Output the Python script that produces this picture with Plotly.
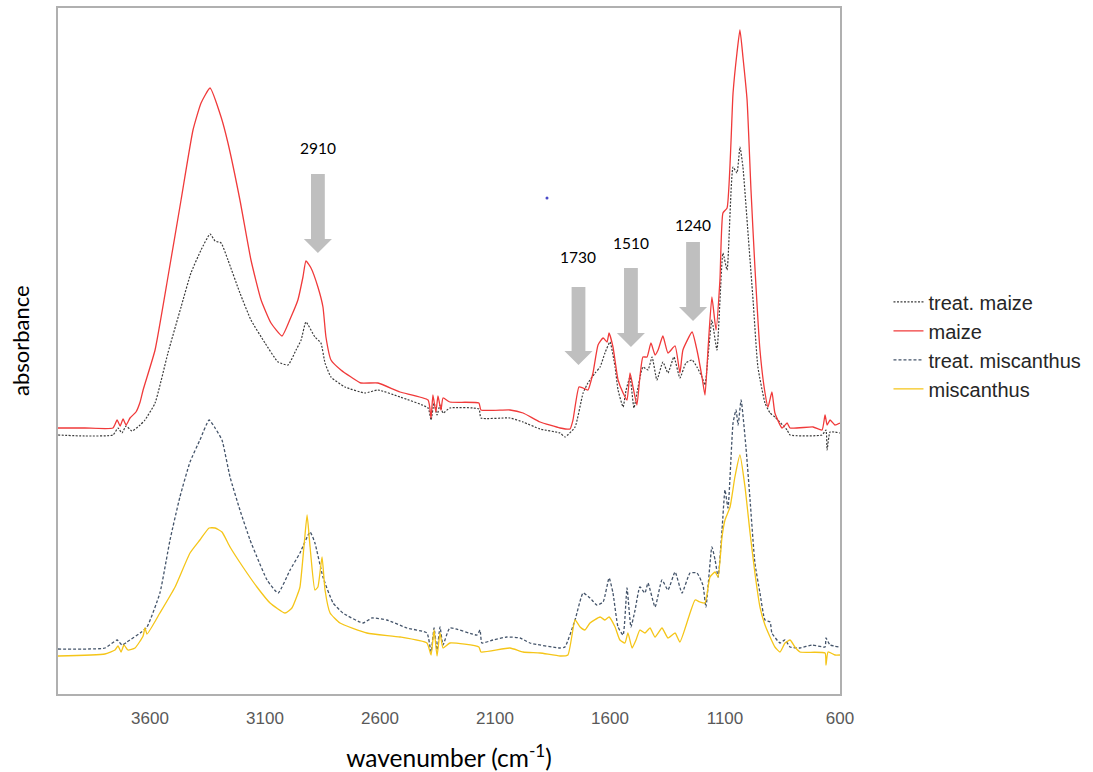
import plotly.graph_objects as go

# ---- spectra (wavenumber in cm-1, absorbance in arbitrary units) ----
treat_maize_wn = [4000, 3883, 3761, 3739, 3722, 3704, 3678, 3643, 3622, 3578, 3522, 3465, 3422, 3378, 3339, 3317,
                  3291, 3261, 3209, 3161, 3100, 3043, 3000, 2965, 2943, 2922, 2883, 2857, 2839, 2813, 2752, 2665,
                  2609, 2513, 2391, 2378, 2365, 2352, 2339, 2326, 2296, 2170, 2161, 2035, 1978, 1904, 1817, 1796,
                  1752, 1717, 1696, 1665, 1643, 1622, 1600, 1578, 1565, 1543, 1530, 1513, 1496, 1478, 1457, 1435,
                  1417, 1396, 1370, 1348, 1322, 1296, 1270, 1243, 1222, 1200, 1187, 1174, 1157, 1135, 1109, 1091,
                  1065, 1048, 1035, 1022, 1000, 978, 957, 926, 904, 883, 830, 817, 678, 661, 656, 643, 600]
treat_maize_abs = [0.259, 0.258, 0.259, 0.266, 0.261, 0.268, 0.263, 0.269, 0.274, 0.291, 0.341, 0.387, 0.421, 0.444,
                   0.460, 0.453, 0.451, 0.434, 0.401, 0.374, 0.351, 0.332, 0.329, 0.344, 0.354, 0.372, 0.357, 0.351,
                   0.331, 0.317, 0.307, 0.301, 0.304, 0.297, 0.286, 0.274, 0.291, 0.279, 0.289, 0.281, 0.286, 0.285,
                   0.276, 0.276, 0.272, 0.265, 0.261, 0.257, 0.267, 0.301, 0.311, 0.321, 0.327, 0.341, 0.352, 0.327,
                   0.304, 0.287, 0.304, 0.317, 0.286, 0.307, 0.327, 0.324, 0.337, 0.314, 0.332, 0.321, 0.337, 0.316,
                   0.331, 0.334, 0.327, 0.317, 0.309, 0.337, 0.374, 0.344, 0.441, 0.424, 0.527, 0.521, 0.547, 0.527,
                   0.461, 0.394, 0.327, 0.291, 0.281, 0.277, 0.264, 0.259, 0.259, 0.264, 0.244, 0.262, 0.261]

maize_wn = [4000, 3883, 3761, 3743, 3730, 3717, 3704, 3687, 3661, 3643, 3630, 3578, 3522, 3465, 3413, 3378, 3339,
            3291, 3261, 3209, 3161, 3117, 3074, 3026, 2987, 2957, 2935, 2922, 2900, 2870, 2848, 2835, 2813, 2770,
            2726, 2683, 2609, 2513, 2391, 2378, 2370, 2357, 2348, 2335, 2326, 2296, 2170, 2161, 2035, 1978, 1904,
            1817, 1774, 1761, 1735, 1717, 1696, 1674, 1652, 1630, 1613, 1604, 1587, 1565, 1543, 1526, 1513, 1500,
            1483, 1470, 1457, 1439, 1422, 1404, 1391, 1370, 1348, 1317, 1296, 1283, 1243, 1222, 1200, 1187, 1174,
            1157, 1139, 1122, 1109, 1091, 1065, 1048, 1035, 1022, 1004, 987, 970, 948, 926, 913, 896, 883, 852,
            830, 817, 717, 678, 665, 656, 643, 622, 600]
maize_abs = [0.266, 0.266, 0.266, 0.274, 0.268, 0.275, 0.269, 0.276, 0.282, 0.292, 0.304, 0.344, 0.417, 0.494,
             0.564, 0.591, 0.606, 0.577, 0.551, 0.494, 0.434, 0.394, 0.371, 0.358, 0.377, 0.394, 0.417, 0.433,
             0.426, 0.407, 0.387, 0.357, 0.334, 0.324, 0.317, 0.311, 0.311, 0.302, 0.294, 0.276, 0.299, 0.282,
             0.298, 0.284, 0.296, 0.292, 0.291, 0.284, 0.284, 0.281, 0.272, 0.266, 0.265, 0.274, 0.307, 0.306,
             0.304, 0.321, 0.349, 0.356, 0.352, 0.361, 0.347, 0.314, 0.301, 0.294, 0.321, 0.307, 0.289, 0.317,
             0.337, 0.337, 0.351, 0.339, 0.344, 0.358, 0.341, 0.348, 0.321, 0.344, 0.362, 0.344, 0.317, 0.299,
             0.344, 0.397, 0.364, 0.414, 0.481, 0.486, 0.601, 0.641, 0.664, 0.637, 0.594, 0.504, 0.427, 0.344,
             0.301, 0.287, 0.302, 0.281, 0.266, 0.271, 0.266, 0.267, 0.264, 0.279, 0.269, 0.274, 0.269, 0.271]

treat_misc_wn = [4000, 3796, 3743, 3722, 3700, 3643, 3613, 3557, 3513, 3470, 3426, 3383, 3343, 3317, 3287, 3252,
                 3209, 3165, 3135, 3091, 3043, 2991, 2948, 2904, 2883, 2848, 2804, 2761, 2674, 2635, 2570, 2483,
                 2396, 2378, 2365, 2352, 2339, 2326, 2296, 2178, 2165, 2157, 2109, 2048, 1991, 1948, 1817, 1796,
                 1752, 1717, 1687, 1657, 1630, 1604, 1587, 1565, 1543, 1526, 1509, 1491, 1470, 1448, 1435, 1404,
                 1374, 1348, 1317, 1287, 1252, 1222, 1196, 1183, 1157, 1143, 1130, 1113, 1100, 1087, 1065, 1052,
                 1043, 1030, 1009, 991, 970, 948, 926, 904, 896, 861, 839, 817, 774, 722, 665, 661, 643, 600]
treat_misc_abs = [0.045, 0.046, 0.054, 0.049, 0.052, 0.061, 0.067, 0.101, 0.154, 0.197, 0.232, 0.254, 0.274, 0.266,
                  0.254, 0.217, 0.184, 0.154, 0.137, 0.114, 0.101, 0.124, 0.141, 0.162, 0.151, 0.117, 0.091, 0.081,
                  0.071, 0.076, 0.074, 0.066, 0.061, 0.042, 0.066, 0.044, 0.067, 0.049, 0.066, 0.059, 0.064, 0.051,
                  0.054, 0.057, 0.056, 0.051, 0.046, 0.047, 0.074, 0.101, 0.096, 0.089, 0.092, 0.116, 0.101, 0.067,
                  0.059, 0.106, 0.067, 0.084, 0.107, 0.101, 0.111, 0.087, 0.114, 0.104, 0.122, 0.101, 0.121, 0.121,
                  0.109, 0.087, 0.147, 0.134, 0.117, 0.164, 0.204, 0.186, 0.271, 0.284, 0.269, 0.294, 0.247, 0.194,
                  0.131, 0.101, 0.074, 0.072, 0.061, 0.051, 0.054, 0.047, 0.046, 0.049, 0.047, 0.056, 0.049, 0.047]

misc_wn = [4000, 3796, 3752, 3739, 3726, 3713, 3696, 3665, 3630, 3622, 3613, 3557, 3491, 3426, 3383, 3343, 3317,
           3287, 3252, 3196, 3135, 3078, 3013, 2983, 2961, 2948, 2930, 2917, 2904, 2883, 2870, 2852, 2839, 2817,
           2774, 2657, 2513, 2396, 2378, 2365, 2352, 2339, 2326, 2296, 2170, 2161, 2035, 1978, 1904, 1817, 1783,
           1752, 1730, 1709, 1687, 1643, 1622, 1604, 1578, 1557, 1535, 1522, 1504, 1487, 1470, 1448, 1426, 1404,
           1374, 1348, 1317, 1296, 1252, 1230, 1209, 1187, 1165, 1143, 1130, 1113, 1100, 1078, 1057, 1035, 1013,
           991, 970, 948, 926, 904, 883, 861, 839, 817, 796, 774, 665, 661, 652, 622, 600]
misc_abs = [0.038, 0.040, 0.044, 0.048, 0.042, 0.049, 0.044, 0.046, 0.058, 0.066, 0.060, 0.081, 0.107, 0.141, 0.154,
            0.166, 0.166, 0.162, 0.147, 0.127, 0.107, 0.091, 0.081, 0.086, 0.098, 0.107, 0.149, 0.179, 0.147, 0.104,
            0.107, 0.137, 0.104, 0.081, 0.071, 0.061, 0.057, 0.051, 0.039, 0.064, 0.038, 0.061, 0.046, 0.051, 0.047,
            0.042, 0.046, 0.042, 0.041, 0.038, 0.039, 0.074, 0.067, 0.064, 0.071, 0.077, 0.074, 0.077, 0.067, 0.054,
            0.051, 0.061, 0.046, 0.054, 0.064, 0.061, 0.066, 0.057, 0.066, 0.056, 0.061, 0.052, 0.081, 0.094, 0.092,
            0.091, 0.117, 0.122, 0.117, 0.157, 0.174, 0.187, 0.217, 0.239, 0.207, 0.161, 0.121, 0.087, 0.069, 0.057,
            0.047, 0.042, 0.051, 0.054, 0.047, 0.042, 0.041, 0.029, 0.042, 0.039, 0.039]

# stray point in the chart area
stray_wn = [1874]
stray_abs = [0.496]

# band markers: label, arrow centre (cm-1), shaft top, arrow tip, label height
band_labels = ["2910", "1730", "1510", "1240"]
band_wn = [2870, 1737, 1509, 1239]
band_top = [0.520, 0.407, 0.426, 0.452]
band_tip = [0.441, 0.329, 0.347, 0.373]
band_text_y = [0.546, 0.437, 0.451, 0.469]

tick_vals = [3600, 3100, 2600, 2100, 1600, 1100, 600]

SMOOTH = 0.45

fig = go.Figure()
fig.add_trace(go.Scatter(x=treat_maize_wn, y=treat_maize_abs, mode="lines", name="treat. maize",
                         line=dict(color="#3c3c3c", width=1.2, dash="2px,1.5px", shape="spline", smoothing=SMOOTH)))
fig.add_trace(go.Scatter(x=maize_wn, y=maize_abs, mode="lines", name="maize",
                         line=dict(color="#f03a3a", width=1.3, shape="spline", smoothing=SMOOTH)))
fig.add_trace(go.Scatter(x=treat_misc_wn, y=treat_misc_abs, mode="lines", name="treat. miscanthus",
                         line=dict(color="#44546a", width=1.3, dash="3px,2px", shape="spline", smoothing=SMOOTH)))
fig.add_trace(go.Scatter(x=misc_wn, y=misc_abs, mode="lines", name="miscanthus",
                         line=dict(color="#f5c518", width=1.3, shape="spline", smoothing=SMOOTH)))
fig.add_trace(go.Scatter(x=stray_wn, y=stray_abs, mode="markers", showlegend=False,
                         marker=dict(color="#4a4ac8", size=3)))

# block arrows pointing at the bands
shaft_half = 30     # cm-1
head_half = 61      # cm-1
head_len = 0.014
for lab, xc, top, tip, ty in zip(band_labels, band_wn, band_top, band_tip, band_text_y):
    hs = tip + head_len
    path = (f"M {xc + shaft_half},{top} L {xc - shaft_half},{top} L {xc - shaft_half},{hs} "
            f"L {xc - head_half},{hs} L {xc},{tip} L {xc + head_half},{hs} L {xc + shaft_half},{hs} Z")
    fig.add_shape(type="path", path=path, xref="x", yref="y",
                  fillcolor="#bfbfbf", line=dict(width=0))
    fig.add_annotation(x=xc, y=ty, xref="x", yref="y", text=lab, showarrow=False,
                       font=dict(family="Lato", size=15.5, color="#000000"))

# vertical axis caption
fig.add_annotation(x=-0.0486, y=0.516, xref="paper", yref="paper", text="absorbance",
                   textangle=-90, showarrow=False, xanchor="center", yanchor="middle",
                   font=dict(family="Lato", size=22, color="#000000"))

fig.update_layout(
    width=1093, height=772,
    margin=dict(l=58, r=253, t=8, b=78, autoexpand=False),
    paper_bgcolor="white", plot_bgcolor="white",
    showlegend=True,
    legend=dict(x=1.062, y=0.6, xanchor="left", yanchor="top",
                font=dict(family="Liberation Sans, Arial", size=20, color="#262626"),
                bgcolor="rgba(0,0,0,0)", itemwidth=30),
    xaxis=dict(range=[4000, 600], tickvals=tick_vals, ticks="", showgrid=False, zeroline=False,
               showline=True, mirror=True, linecolor="#b0b0b0", linewidth=1.5, ticklabelstandoff=8,
               tickfont=dict(family="Liberation Sans, Arial", size=17, color="#595959"),
               title=dict(text="wavenumber (cm<sup>-1</sup>)", standoff=26,
                          font=dict(family="Lato", size=24.5, color="#000000"))),
    yaxis=dict(range=[0, 0.686], showticklabels=False, ticks="", showgrid=False, zeroline=False,
               showline=True, mirror=True, linecolor="#b0b0b0", linewidth=1.5),
)

fig.write_html("out.html")
